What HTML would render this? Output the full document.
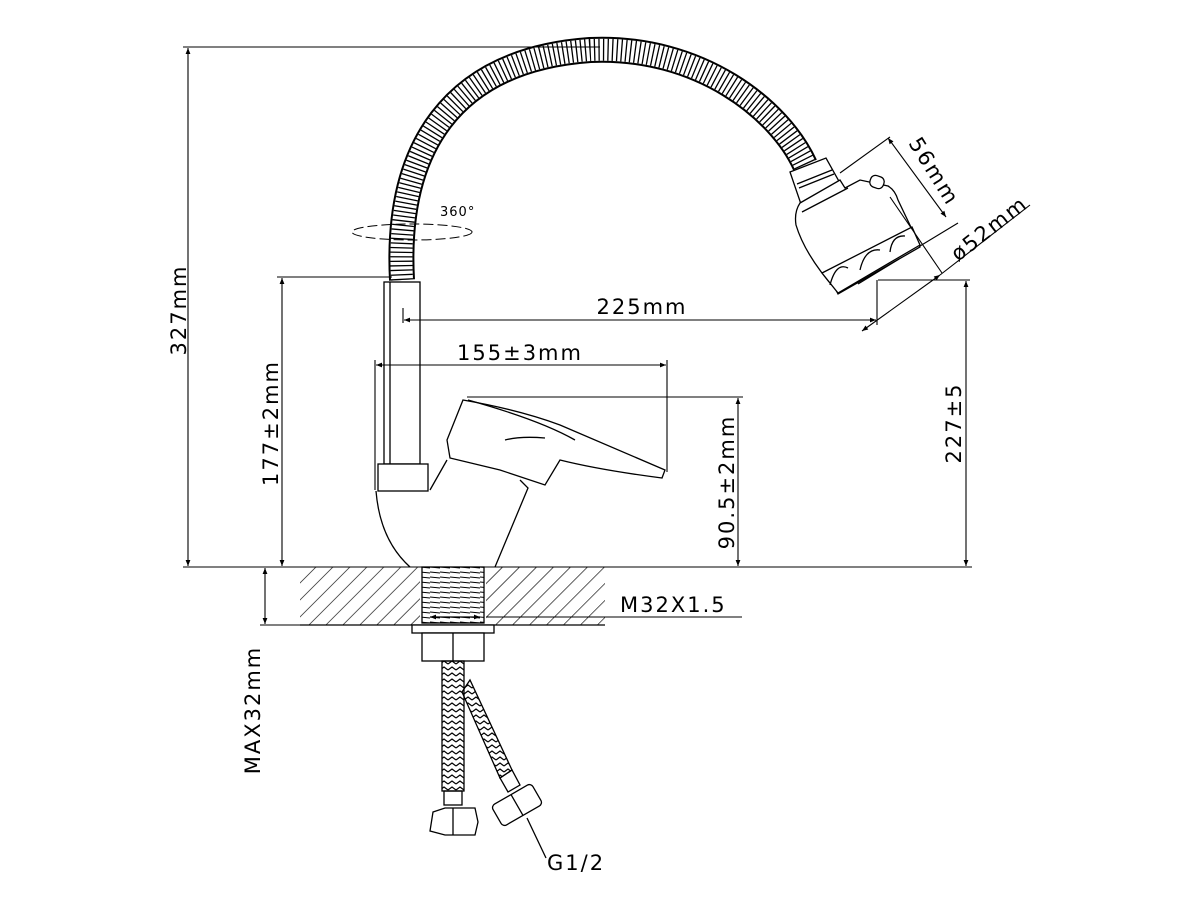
<!DOCTYPE html>
<html><head><style>html,body{margin:0;padding:0;background:#fff}svg{display:block}text{font-family:"DejaVu Sans","Liberation Sans",sans-serif;fill:#000;letter-spacing:2px}</style></head>
<body>
<svg width="1200" height="900" viewBox="0 0 1200 900" xmlns="http://www.w3.org/2000/svg">
<defs>
<marker id="a" viewBox="0 0 10 10" refX="10" refY="5" markerWidth="12" markerHeight="6" orient="auto-start-reverse" markerUnits="userSpaceOnUse"><path d="M0,1 L10,5 L0,9z" fill="#000"/></marker>
<pattern id="h" width="12" height="12" patternUnits="userSpaceOnUse" patternTransform="rotate(45)"><line x1="0" y1="0" x2="0" y2="12" stroke="#000" stroke-width="1.3"/></pattern>
<pattern id="br" width="8" height="6" patternUnits="userSpaceOnUse"><path d="M0,4 L4,1 L8,4" fill="none" stroke="#000" stroke-width="1.2"/></pattern>
<pattern id="th" width="10" height="5" patternUnits="userSpaceOnUse"><line x1="0" y1="2" x2="10" y2="3" stroke="#000" stroke-width="1"/></pattern>
</defs>
<g fill="none" stroke="#000" stroke-width="1.3">
<!-- hose -->
<path d="M402,280 C395,150 450,60 590,50 C700,45 780,110 805,165" stroke="#000" stroke-width="26"/>
<path d="M402,280 C395,150 450,60 590,50 C700,45 780,110 805,165" stroke="#fff" stroke-width="22"/>
<path d="M402,280 C395,150 450,60 590,50 C700,45 780,110 805,165" stroke="#000" stroke-width="22" stroke-dasharray="1.3 3.2"/>
<!-- hose connector -->
<path d="M790,172 L826,158 L845,192 L803,210 Z" fill="#fff"/>
<line x1="797" y1="184" x2="832" y2="170"/>
<line x1="799" y1="188" x2="834" y2="174"/>
<!-- head -->
<path d="M800,203 L840,180 L845,188 L860,180 L888,186 Q895,190 898,200 L918,242 L920,247 L838,294 L836,290 Q805,255 796,225 Q794,212 800,203Z" fill="#fff"/>
<line x1="802" y1="212" x2="848" y2="188"/>
<rect x="870" y="176" width="14" height="12" rx="5" transform="rotate(20 877 182)" fill="#fff"/>
<path d="M822,273 L912,227 L920,245 L838,293 Z" fill="#fff"/>
<path d="M830,285 Q836,262 848,268 M860,270 Q865,248 880,250 M890,252 Q892,235 905,236"/>
<line x1="858" y1="284" x2="899" y2="259"/>
</g>
<g fill="none" stroke="#000" stroke-width="1.3">
<!-- 360 -->
<ellipse cx="412" cy="232" rx="60" ry="8" stroke-dasharray="10 4" stroke-width="1"/>
<!-- spout -->
<rect x="384" y="282" width="36" height="182" fill="#fff"/>
<line x1="390" y1="282" x2="390" y2="464"/>
<rect x="378" y="464" width="50" height="27" fill="#fff"/>
<path d="M376,491 Q380,540 410,567 M495,567 L528,488 L520,480"/>
<!-- handle -->
<path d="M447,440 L463,400 Q520,410 560,425 L665,470 L662,478 Q600,470 560,460 L545,485 L500,470 L450,458 Z" fill="#fff"/>
<path d="M468,400 Q540,420 575,440 M505,440 Q520,436 545,438 M447,460 L430,490"/>
<!-- hatch base -->
<rect x="300" y="567" width="305" height="58" fill="url(#h)" stroke="none"/>
<rect x="420" y="567" width="66" height="58" fill="#fff" stroke="none"/>
<rect x="422" y="567" width="62" height="56" fill="url(#th)"/>
<line x1="300" y1="625" x2="605" y2="625"/>
<path d="M430,617 L480,617" marker-start="url(#a)" marker-end="url(#a)"/>
<rect x="412" y="625" width="82" height="8" fill="#fff"/>
<rect x="422" y="633" width="62" height="28" fill="#fff"/>
<line x1="453" y1="633" x2="453" y2="661"/>
<!-- hoses -->
<path d="M462,692 L470,680 L512,770 L500,778 Z" fill="url(#br)"/>
<rect x="442" y="661" width="22" height="130" fill="url(#br)"/>
<rect x="444" y="791" width="18" height="14"/>
<path d="M433,812 L445,808 L475,808 L478,822 L475,835 L445,835 L430,831 Z" fill="#fff"/>
<line x1="453" y1="808" x2="453" y2="835"/>
<path d="M500,778 L512,770 L520,785 L508,792Z"/>
<g transform="rotate(-30 517 805)"><rect x="494" y="793" width="46" height="24" rx="4" fill="#fff"/><line x1="517" y1="793" x2="517" y2="817"/></g>
<line x1="527" y1="818" x2="546" y2="858"/>
</g>
<!-- dimensions -->
<g fill="none" stroke="#000" stroke-width="1.1">
<line x1="183" y1="47" x2="600" y2="47"/>
<line x1="188" y1="48" x2="188" y2="566" marker-start="url(#a)" marker-end="url(#a)"/>
<line x1="183" y1="567" x2="972" y2="567"/>
<line x1="277" y1="277" x2="392" y2="277"/>
<line x1="282" y1="278" x2="282" y2="566" marker-start="url(#a)" marker-end="url(#a)"/>
<line x1="878" y1="280" x2="970" y2="280"/>
<line x1="966" y1="281" x2="966" y2="566" marker-start="url(#a)" marker-end="url(#a)"/>
<line x1="404" y1="320" x2="876" y2="320" marker-start="url(#a)" marker-end="url(#a)"/>
<line x1="403" y1="308" x2="403" y2="323"/>
<line x1="877" y1="280" x2="877" y2="325"/>
<line x1="376" y1="365" x2="666" y2="365" marker-start="url(#a)" marker-end="url(#a)"/>
<line x1="375" y1="360" x2="375" y2="490"/>
<line x1="667" y1="360" x2="667" y2="472"/>
<line x1="467" y1="397" x2="743" y2="397"/>
<line x1="738" y1="398" x2="738" y2="566" marker-start="url(#a)" marker-end="url(#a)"/>
<line x1="265" y1="568" x2="265" y2="624" marker-start="url(#a)" marker-end="url(#a)"/>
<line x1="260" y1="625" x2="300" y2="625"/>
<line x1="486" y1="617" x2="742" y2="617"/>
<line x1="840" y1="173" x2="890" y2="137"/>
<line x1="888" y1="138" x2="946" y2="217" marker-start="url(#a)" marker-end="url(#a)"/>
<line x1="920" y1="246" x2="958" y2="223"/>
<line x1="890" y1="197" x2="942" y2="273"/>
<line x1="862" y1="331" x2="940" y2="275" marker-start="url(#a)" marker-end="url(#a)"/>
<line x1="940" y1="275" x2="1030" y2="205"/>
</g>
<g font-size="21">
<text transform="translate(186,310) rotate(-90)" text-anchor="middle">327mm</text>
<text transform="translate(278,423) rotate(-90)" text-anchor="middle">177±2mm</text>
<text transform="translate(961,423) rotate(-90)" text-anchor="middle">227±5</text>
<text transform="translate(734,482) rotate(-90)" text-anchor="middle">90.5±2mm</text>
<text transform="translate(260,710) rotate(-90)" text-anchor="middle">MAX32mm</text>
<text x="642" y="314" text-anchor="middle">225mm</text>
<text x="520" y="360" text-anchor="middle">155±3mm</text>
<text x="620" y="612">M32X1.5</text>
<text x="547" y="870">G1/2</text>
<text transform="translate(908,143) rotate(58)">56mm</text>
<text transform="translate(958,262) rotate(-38)">ø52mm</text>
<text x="440" y="216" font-size="13" style="letter-spacing:1px">360°</text>
</g>
</svg>
</body></html>
